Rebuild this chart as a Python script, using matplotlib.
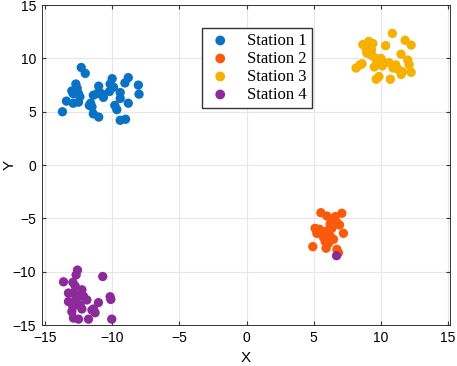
import matplotlib.pyplot as plt

# station coordinates
s1_x = [-12.3, -12.0, -12.7, -12.6, -13.0, -12.9, -12.5, -12.4, -13.4, -12.9, -12.5, -13.7,
        -11.0, -11.4, -11.1, -10.8, -10.65, -11.6, -11.7, -11.5, -11.4, -11.0, -10.0, -10.15,
        -9.9, -10.2, -9.4, -9.4, -9.8, -9.65, -8.8, -9.05, -8.05, -8.0, -8.8, -9.4, -9.0]
s1_y = [9.15, 8.6, 7.6, 7.2, 6.95, 6.7, 6.7, 6.4, 6.0, 5.8, 5.9, 5.0,
        7.4, 6.55, 6.7, 6.7, 6.35, 5.8, 5.6, 5.45, 4.8, 4.5, 8.1, 7.6,
        7.3, 6.9, 6.8, 6.25, 5.6, 5.2, 8.2, 7.7, 7.5, 6.65, 5.8, 4.2, 4.3]

s2_x = [5.53, 5.98, 6.6, 7.09, 6.35, 6.72, 6.92, 6.22, 5.1, 5.43, 5.23, 5.6, 5.85, 6.1,
        6.35, 5.72, 5.97, 6.22, 7.21, 5.85, 6.1, 4.93, 5.92, 6.72, 6.84, 6.47, 5.48]
s2_y = [-4.47, -4.78, -4.84, -4.52, -5.15, -5.4, -5.62, -5.53, -5.93, -6.02, -6.4, -6.46, -6.25, -6.09,
        -5.93, -6.77, -6.96, -6.65, -6.4, -7.18, -7.33, -7.65, -7.8, -7.9, -8.22, -6.96, -6.25]

s3_x = [10.85, 11.8, 12.25, 8.65, 9.1, 9.4, 8.9, 9.3, 10.35, 8.95, 9.35, 9.65, 10.0, 9.7, 10.1,
        9.5, 10.1, 10.6, 11.5, 12.0, 12.1, 10.9, 11.25, 11.6, 12.25, 8.15, 8.45, 8.6, 9.85,
        9.65, 10.7, 11.5, 11.1]
s3_y = [12.35, 11.7, 11.25, 11.3, 11.6, 11.4, 10.9, 10.8, 11.2, 10.5, 10.25, 10.0, 10.0, 9.7, 9.7,
        9.2, 9.3, 9.6, 10.4, 9.85, 9.4, 9.1, 9.0, 8.75, 8.7, 9.1, 9.4, 9.5, 8.3,
        8.05, 8.05, 8.5, 9.4]

s4_x = [-12.58, -12.68, -13.62, -12.92, -12.75, -12.25, -13.25, -12.88, -12.43, -12.13, -11.88,
        -10.15, -10.1, -13.25, -12.75, -12.38, -12.25, -11.02, -11.39, -11.27, -11.5, -13.0,
        -12.88, -12.5, -11.76, -10.03, -10.7, -12.92, -12.68, 6.7]
s4_y = [-9.85, -10.3, -10.95, -11.0, -11.35, -11.7, -12.0, -12.0, -12.2, -12.3, -12.65,
        -12.35, -12.6, -12.8, -12.9, -13.1, -13.5, -12.9, -13.5, -13.85, -13.6, -13.75,
        -14.35, -14.45, -14.45, -14.45, -10.45, -13.3, -12.5, -8.5]

stations = [(s1_x, s1_y, '#0a72c4', 'Station 1'),
            (s2_x, s2_y, '#fa5a0a', 'Station 2'),
            (s3_x, s3_y, '#f5b000', 'Station 3'),
            (s4_x, s4_y, '#8b2a98', 'Station 4')]

plt.rcParams['font.family'] = ['Liberation Sans', 'DejaVu Sans']

fig = plt.figure(figsize=(4.57, 3.66), dpi=100)
ax = fig.add_axes([0.091, 0.112, 0.894, 0.874])

for xs, ys, col, name in stations:
    ax.scatter(xs, ys, s=45, color=col, label=name, edgecolors='none', zorder=3)

ax.set_xlim(-15.25, 15.15)
ax.set_ylim(-15, 15)
ax.set_xticks(range(-15, 16, 5))
ax.set_yticks(range(-15, 16, 5))
ax.grid(True, color='#e6e6e6', linewidth=0.8)
ax.tick_params(direction='in', labelsize=10, length=3, color='#333333', top=True, right=True,
               labeltop=False, labelright=False, pad=4)
for sp in ax.spines.values():
    sp.set_color('#333333')
    sp.set_linewidth(0.7)
ax.set_xlabel('X', fontsize=11)
ax.set_ylabel('Y', fontsize=11)
ax.xaxis.set_label_coords(0.5, -0.082)
ax.yaxis.set_label_coords(-0.062, 0.5)

ax.legend(loc='upper left', bbox_to_anchor=(0.372, 0.955), fancybox=False, edgecolor='#333333',
          prop={'family': 'Liberation Serif', 'size': 12}, handletextpad=0.8,
          borderpad=0.3, labelspacing=0.12, handlelength=1.6, framealpha=1, markerscale=1.05)

fig.savefig('out.png', dpi=100)
